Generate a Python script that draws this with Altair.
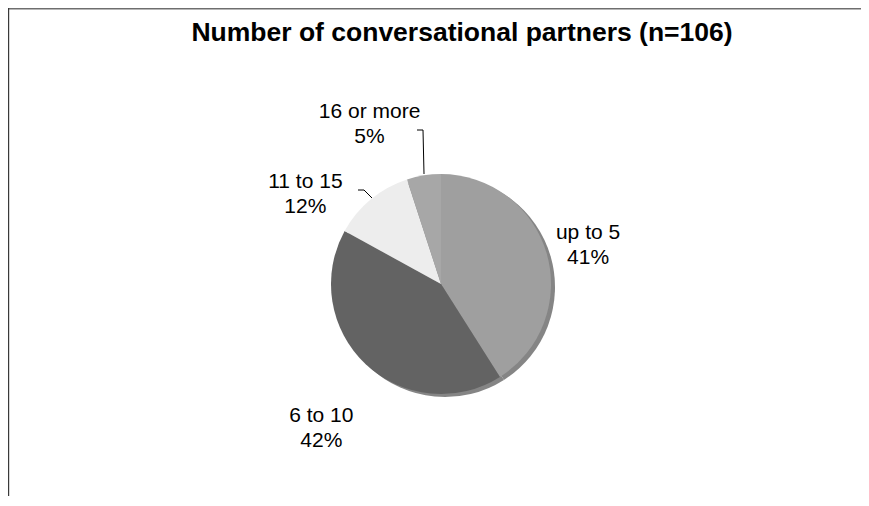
import math
import altair as alt
import pandas as pd

# ---- data ----
chart_title = "Number of conversational partners (n=106)"
categories = ["up to 5", "6 to 10", "11 to 15", "16 or more"]
percents = [41, 42, 12, 5]
slice_colors = ["#9f9f9f", "#636363", "#ededed", "#a7a7a7"]

labels = [f"{c}\n{p}%" for c, p in zip(categories, percents)]
df = pd.DataFrame({"cat": categories, "pct": percents,
                   "idx": list(range(len(categories))), "label": labels})

# ---- layout / style ----
W, H = 853, 488
CX, CY = 433, 276
R = 110
LABEL_R = 150
FONT = "Liberation Sans"
LINE_H = 25
theta_scale = alt.Scale(domain=[0, 100], range=[0, 2 * math.pi])
label_offsets = {
    "up to 5": (3, 3),
    "6 to 10": (-17, 35),
    "11 to 15": (-40, 26),
    "16 or more": (-48, -11),
}

base = alt.Chart(df)

shadow = base.mark_arc(color="#858585").encode(
    theta=alt.Theta("pct:Q", stack=True, scale=theta_scale),
    order=alt.Order("idx:Q"),
    x=alt.value(CX + 4), y=alt.value(CY + 3), radius=alt.value(R),
)

pie = base.mark_arc().encode(
    theta=alt.Theta("pct:Q", stack=True, scale=theta_scale),
    order=alt.Order("idx:Q"),
    color=alt.Color("cat:N", scale=alt.Scale(domain=categories, range=slice_colors), legend=None),
    x=alt.value(CX), y=alt.value(CY), radius=alt.value(R),
)

label_base = base.transform_window(
    cum="sum(pct)", sort=[alt.SortField("idx")]
).transform_calculate(mid="datum.cum - datum.pct / 2")

label_layers = []
for cat, (dx, dy) in label_offsets.items():
    label_layers.append(
        label_base.transform_filter(alt.datum.cat == cat).mark_text(
            lineBreak="\n", font=FONT, fontSize=21, lineHeight=LINE_H,
            align="center", baseline="middle", color="#000000",
            dx=dx, dy=dy - LINE_H / 2,
        ).encode(
            theta=alt.Theta("mid:Q", stack=False, scale=theta_scale),
            radius=alt.value(LABEL_R),
            x=alt.value(CX), y=alt.value(CY),
            text="label:N",
        )
    )

one = pd.DataFrame({"k": [0]})
seg = alt.Chart(one)

leaders = [
    seg.mark_rule(color="#000000", strokeWidth=1).encode(
        x=alt.value(409), x2=alt.value(415), y=alt.value(122), y2=alt.value(122)),
    seg.mark_rule(color="#000000", strokeWidth=1).encode(
        x=alt.value(415), x2=alt.value(416), y=alt.value(122), y2=alt.value(166)),
    seg.mark_rule(color="#000000", strokeWidth=1).encode(
        x=alt.value(350), x2=alt.value(356), y=alt.value(182), y2=alt.value(182)),
    seg.mark_rule(color="#000000", strokeWidth=1).encode(
        x=alt.value(356), x2=alt.value(364), y=alt.value(182), y2=alt.value(190)),
]

borders = [
    seg.mark_rule(color="#6e6e6e", strokeWidth=1.5).encode(
        x=alt.value(0), x2=alt.value(W), y=alt.value(0.75), y2=alt.value(0.75)),
    seg.mark_rule(color="#3a3a3a", strokeWidth=1.2).encode(
        x=alt.value(0.6), x2=alt.value(0.6), y=alt.value(0), y2=alt.value(H)),
]

title_layer = alt.Chart(pd.DataFrame({"t": [chart_title]})).mark_text(
    font=FONT, fontSize=26.5, fontWeight="bold", color="#000000",
    align="center", baseline="middle",
).encode(text="t:N", x=alt.value(454), y=alt.value(25))

chart = alt.layer(
    shadow, pie, *label_layers, *leaders, *borders, title_layer
).properties(
    width=W, height=H, padding=0,
    autosize=alt.AutoSizeParams(type="none"),
    background="#ffffff",
).configure_view(stroke="transparent")

chart.save("out.html", embed_options={"renderer": "svg", "actions": False})
